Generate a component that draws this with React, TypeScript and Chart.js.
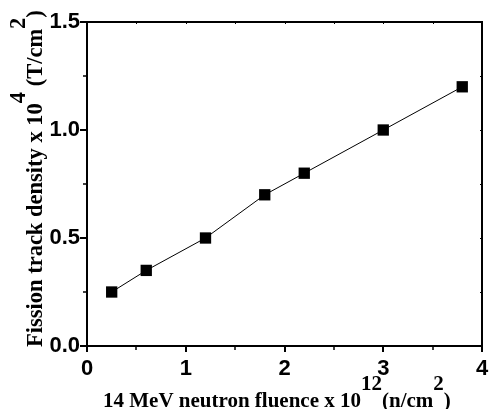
import React, { useEffect, useRef } from "react";
import { Chart, registerables } from "chart.js";

Chart.register(...registerables);

const fluence = [0.25, 0.6, 1.2, 1.8, 2.2, 3.0, 3.8];
const trackDensity = [0.25, 0.35, 0.5, 0.7, 0.8, 1.0, 1.2];
const xTickValues = [0, 1, 2, 3, 4];
const yTickValues = [0, 0.5, 1.0, 1.5];
const xMinorTicks = [0.5, 1.5, 2.5, 3.5];
const yMinorTicks = [0.25, 0.75, 1.25];
const xTitleParts = [
  { text: "14 MeV neutron fluence x 10", sup: false },
  { text: "12", sup: true },
  { text: "(n/cm", sup: false },
  { text: "2", sup: true },
  { text: ")", sup: false },
];
const yTitleParts = [
  { text: "Fission track density x 10", sup: false },
  { text: "4", sup: true },
  { text: " (T/cm", sup: false },
  { text: "2", sup: true },
  { text: ")", sup: false },
];

function drawRich(
  ctx: CanvasRenderingContext2D,
  parts: { text: string; sup: boolean }[],
  x: number,
  y: number,
  supOffset: number,
  size: number
) {
  ctx.font = `bold ${size}px 'Liberation Serif', 'Times New Roman', serif`;
  ctx.fillStyle = "#000";
  ctx.textBaseline = "alphabetic";
  ctx.textAlign = "left";
  let cx = x;
  for (const p of parts) {
    ctx.fillText(p.text, cx, p.sup ? y - supOffset : y);
    cx += ctx.measureText(p.text).width;
  }
}

const framePlugin = {
  id: "framePlugin",
  afterDraw(chart: any) {
    const ctx: CanvasRenderingContext2D = chart.ctx;
    const { left, right, top, bottom } = chart.chartArea;
    const xs = chart.scales.x;
    const ys = chart.scales.y;
    ctx.save();
    ctx.strokeStyle = "#000";
    ctx.lineWidth = 2;
    ctx.beginPath();
    ctx.moveTo(left - 1, top);
    ctx.lineTo(right, top);
    ctx.lineTo(right, bottom);
    ctx.stroke();
    ctx.lineWidth = 1.5;
    ctx.beginPath();
    for (const v of xMinorTicks) {
      const px = Math.round(xs.getPixelForValue(v));
      ctx.moveTo(px, bottom);
      ctx.lineTo(px, bottom + 4);
    }
    for (const v of yMinorTicks) {
      const py = Math.round(ys.getPixelForValue(v));
      ctx.moveTo(left, py);
      ctx.lineTo(left - 4, py);
    }
    ctx.stroke();
    ctx.lineWidth = 1;
    ctx.beginPath();
    for (const v of [...xTickValues, ...xMinorTicks]) {
      const px = Math.round(xs.getPixelForValue(v)) + 0.5;
      ctx.moveTo(px, top);
      ctx.lineTo(px, top + 2);
    }
    for (const v of [...yTickValues, ...yMinorTicks]) {
      const py = Math.round(ys.getPixelForValue(v)) + 0.5;
      ctx.moveTo(right, py);
      ctx.lineTo(right - 2, py);
    }
    ctx.stroke();
    drawRich(ctx, xTitleParts, 103, 407, 17, 21);
    ctx.translate(42, 347);
    ctx.rotate(-Math.PI / 2);
    drawRich(ctx, yTitleParts, 0, 0, 17, 22.5);
    ctx.restore();
  },
};

export default function App() {
  const ref = useRef<HTMLCanvasElement | null>(null);
  useEffect(() => {
    if (!ref.current) return;
    const tickFont = { family: "'Liberation Sans', Arial, sans-serif", size: 22, weight: "bold" as const };
    const chart = new Chart(ref.current, {
      type: "line",
      data: {
        datasets: [
          {
            data: fluence.map((x, i) => ({ x, y: trackDensity[i] })),
            borderColor: "#000",
            borderWidth: 1,
            backgroundColor: "#000",
            pointStyle: "rect",
            pointRadius: 8,
            pointBorderWidth: 0,
            pointBackgroundColor: "#000",
            tension: 0,
          },
        ],
      },
      options: {
        animation: false,
        responsive: false,
        layout: { padding: { top: 22, right: 4, left: 0, bottom: 0 } },
        plugins: { legend: { display: false }, tooltip: { enabled: false } },
        scales: {
          x: {
            type: "linear",
            min: 0,
            max: 4,
            afterBuildTicks: (s: any) => {
              s.ticks = xTickValues.map((v) => ({ value: v }));
            },
            afterFit: (s: any) => {
              s.height = 63;
              s.paddingLeft = 0;
              s.paddingRight = 0;
            },
            ticks: { color: "#000", font: tickFont, padding: 4, maxRotation: 0, callback: (v: any) => String(v) },
            grid: { drawOnChartArea: false, drawTicks: true, tickLength: 6, color: "#000", lineWidth: 2 },
            border: { display: true, color: "#000", width: 2 },
          },
          y: {
            type: "linear",
            min: 0,
            max: 1.5,
            afterBuildTicks: (s: any) => {
              s.ticks = yTickValues.map((v) => ({ value: v }));
            },
            afterFit: (s: any) => {
              s.width = 87;
              s.paddingTop = 0;
              s.paddingBottom = 0;
            },
            ticks: { color: "#000", font: tickFont, padding: 0, callback: (v: any) => Number(v).toFixed(1) },
            grid: { drawOnChartArea: false, drawTicks: true, tickLength: 7, color: "#000", lineWidth: 2 },
            border: { display: true, color: "#000", width: 2 },
          },
        },
      },
      plugins: [framePlugin],
    });
    return () => chart.destroy();
  }, []);
  return (
    <canvas
      ref={ref}
      width={490}
      height={409}
      style={{ position: "absolute", left: 0, top: 0, width: 490, height: 409 }}
    />
  );
}
